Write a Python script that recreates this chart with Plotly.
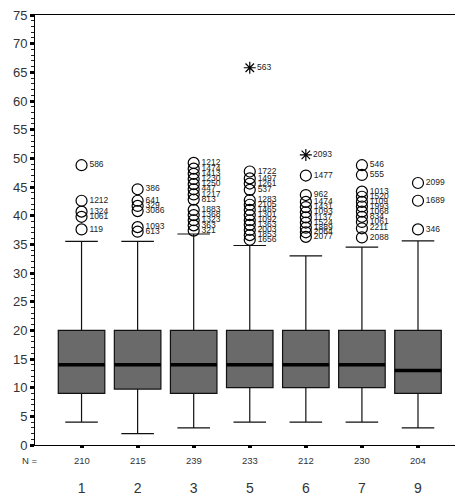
import plotly.graph_objects as go

categories = ["1", "2", "3", "5", "6", "7", "9"]
n_counts = [210, 215, 239, 233, 212, 230, 204]
q1 = [9, 9.75, 9, 10, 10, 10, 9]
median = [14, 14, 14, 14, 14, 14, 13]
q3 = [20, 20, 20, 20, 20, 20, 20]
whisker_low = [4, 2, 3, 4, 4, 4, 3]
whisker_high = [35.5, 35.5, 36.8, 34.8, 33, 34.5, 35.6]

outlier_values = [
    [48.8, 42.6, 40.7, 39.8, 37.6],
    [44.6, 42.6, 41.7, 40.8, 38.0, 37.2],
    [49.2, 48.2, 47.3, 46.4, 45.5, 44.6, 43.7, 42.8, 41.0, 40.1, 39.2, 38.3, 37.4],
    [47.7, 46.5, 45.6, 44.5, 42.7, 41.9, 41.0, 40.1, 39.2, 38.4, 37.5, 36.6, 35.8],
    [47.0, 43.6, 42.4, 41.5, 40.6, 39.7, 38.8, 37.9, 37.1, 36.3],
    [48.8, 47.1, 44.2, 43.3, 42.4, 41.6, 40.7, 39.8, 38.9, 37.8, 36.2],
    [45.7, 42.6, 37.6],
]
outlier_labels = [
    ["586", "1212", "1324", "1061", "119"],
    ["386", "641", "329", "3086", "1093", "613"],
    ["1212", "1474", "1413", "1230", "1250", "447", "1217", "813", "1883", "1368", "1323", "363", "321"],
    ["1722", "1497", "1261", "537", "1283", "2105", "1465", "1301", "1092", "1363", "2003", "1853", "1656"],
    ["1477", "962", "1474", "1431", "1093", "1137", "1524", "1889", "2064", "2077"],
    ["546", "555", "1013", "1520", "1109", "1993", "1068", "834", "1061", "2211", "2088"],
    ["2099", "1689", "346"],
]
extreme_groups = [3, 4]
extreme_values = [65.8, 50.6]
extreme_labels = ["563", "2093"]

FONT = "Liberation Sans, Arial, sans-serif"
fig = go.Figure()

box_w = 0.83
for i in range(len(categories)):
    fig.add_trace(go.Box(
        x=[i], q1=[q1[i]], median=[median[i]], q3=[q3[i]],
        lowerfence=[whisker_low[i]], upperfence=[whisker_high[i]],
        width=box_w, whiskerwidth=0.7,
        fillcolor="#6a6a6a", line=dict(color="#111111", width=1.2),
        boxpoints=False, showlegend=False, hoverinfo="skip",
    ))
    fig.add_trace(go.Scatter(
        x=[i - box_w / 2, i + box_w / 2], y=[median[i], median[i]],
        mode="lines", line=dict(color="black", width=3.5),
        showlegend=False, hoverinfo="skip",
    ))

ox, oy, ot = [], [], []
for i, (vals, labs) in enumerate(zip(outlier_values, outlier_labels)):
    ox += [i] * len(vals)
    oy += vals
    ot += labs
fig.add_trace(go.Scatter(
    x=ox, y=oy, text=ot, mode="markers+text", textposition="middle right",
    marker=dict(symbol="circle-open", size=11, color="black", line=dict(width=1.2)),
    textfont=dict(size=8.5, color="#222", family=FONT),
    showlegend=False, hoverinfo="skip", cliponaxis=False,
))
fig.add_trace(go.Scatter(
    x=extreme_groups, y=extreme_values, text=extreme_labels, mode="markers+text",
    textposition="middle right",
    marker=dict(symbol="asterisk-open", size=10, color="black", line=dict(width=1.2)),
    textfont=dict(size=8.5, color="#222", family=FONT),
    showlegend=False, hoverinfo="skip", cliponaxis=False,
))

for i, n in enumerate(n_counts):
    fig.add_annotation(x=i, y=-0.037, xref="x", yref="paper", text=str(n),
                       showarrow=False, font=dict(size=9.5, color="#333", family=FONT),
                       xanchor="center", yanchor="middle")
fig.add_annotation(x=-0.012, y=-0.037, xref="paper", yref="paper", text="N =",
                   showarrow=False, font=dict(size=9.5, color="#333", family=FONT),
                   xanchor="center", yanchor="middle")

fig.update_layout(
    width=455, height=495,
    margin=dict(l=35, r=0, t=15, b=50),
    plot_bgcolor="white", paper_bgcolor="white",
    font=dict(family=FONT),
    xaxis=dict(
        range=[-0.83, 6.66], tickvals=list(range(len(categories))), ticktext=categories,
        showline=True, linecolor="black", linewidth=1, mirror=True,
        ticks="outside", ticklen=2, tickwidth=4, tickcolor="black",
        showgrid=False, zeroline=False,
        tickfont=dict(size=14, color="#333", family=FONT),
        ticklabelstandoff=28,
    ),
    yaxis=dict(
        range=[0, 75], tickvals=list(range(0, 76, 5)),
        showline=True, linecolor="black", linewidth=1,
        ticks="outside", ticklen=4, tickwidth=3, tickcolor="black",
        minor=dict(dtick=1, ticks="outside", ticklen=3, tickwidth=1.2, tickcolor="#222"),
        showgrid=False, zeroline=False,
        tickfont=dict(size=13, color="#333", family=FONT),
    ),
)

fig.write_html("out.html")
